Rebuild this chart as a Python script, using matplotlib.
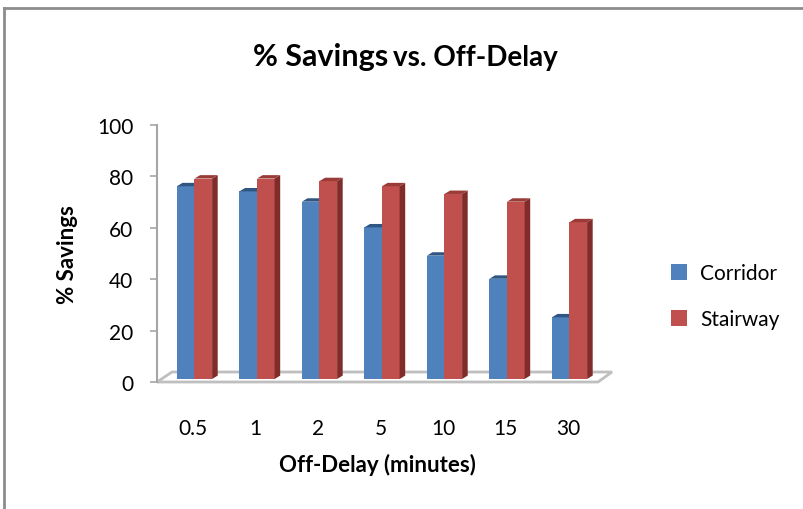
import matplotlib.pyplot as plt
from matplotlib.patches import Polygon, Patch
from matplotlib.lines import Line2D

plt.rcParams['font.family'] = ['Lato', 'DejaVu Sans']

# data
delays = ['0.5', '1', '2', '5', '10', '15', '30']
corridor = [75, 73, 69, 59, 48, 39, 24]
stairway = [78, 78, 77, 75, 72, 69, 61]
series_names = ['Corridor', 'Stairway']

blue, blue_side, blue_top = '#4F81BD', '#3A6596', '#2F5683'
red, red_side, red_top = '#C0504D', '#7F2C2A', '#9B3B38'

W, H = 804, 510
fig = plt.figure(figsize=(W / 100, H / 100), dpi=100)
ax = fig.add_axes([157 / W, 1 - 383 / H, (598 - 157) / W, (383 - 126) / H])
ax.set_xlim(-0.576, 6.48)
ax.set_ylim(0, 100)

# pixel -> data conversion for the fake 3d depth
px_x = (6.48 + 0.576) / (598 - 157)
px_y = 100 / (383 - 126)
bw = 17.6 * px_x
ddx, ddy = 5.6 * px_x, 3.4 * px_y
b0 = 3 * px_y  # bars stand slightly back on the floor
sx = 1.5 * px_x

# floor
fx0, fx1 = ax.get_xlim()
floor = Polygon([(fx0, 0), (fx1, 0), (fx1 + 14 * px_x, 10 * px_y), (fx0 + 15 * px_x, 10 * px_y)],
                closed=True, facecolor='white', edgecolor='#BFBFBF', lw=2, clip_on=False, zorder=1)
ax.add_patch(floor)


def bar3d(x, h, face, side, top):
    x0, x1 = x, x + bw
    y0, y1 = b0, b0 + h
    ax.add_patch(Polygon([(x0, y0), (x1, y0), (x1, y1), (x0, y1)], closed=True,
                         facecolor=face, edgecolor='none', clip_on=False, zorder=3))
    ax.add_patch(Polygon([(x1, y0), (x1 + ddx, y0 + ddy), (x1 + ddx, y1 + ddy), (x1, y1)], closed=True,
                         facecolor=side, edgecolor='none', clip_on=False, zorder=3))
    ax.add_patch(Polygon([(x0, y1), (x1, y1), (x1 + ddx, y1 + ddy), (x0 + ddx, y1 + ddy)], closed=True,
                         facecolor=top, edgecolor='none', clip_on=False, zorder=3))


for i in range(len(delays)):
    bar3d(i - bw + sx, corridor[i], blue, blue_side, blue_top)
    bar3d(i + sx, stairway[i], red, red_side, red_top)

for s in ['top', 'right', 'bottom']:
    ax.spines[s].set_visible(False)
ax.spines['left'].set_color('#A6A6A6')
ax.spines['left'].set_linewidth(1.5)
ax.set_yticks(range(0, 101, 20))
ax.tick_params(axis='y', direction='out', length=5, width=1.2, color='#A6A6A6', pad=12, labelsize=15)
ax.set_xticks(range(len(delays)))
ax.set_xticklabels(delays)
ax.tick_params(axis='x', length=0, pad=26, labelsize=15)

ax.set_xlabel('Off-Delay (minutes)', fontsize=16, fontweight='bold', labelpad=11)
ax.set_ylabel('% Savings', fontsize=16, fontweight='bold', labelpad=14)

# title with two sizes
fig.text(388 / W, 1 - 66 / H, '% Savings', fontsize=22, fontweight='bold', ha='right', va='baseline')
fig.text(393 / W, 1 - 66 / H, 'vs. Off-Delay', fontsize=20, fontweight='bold', ha='left', va='baseline')

handles = [Patch(facecolor=blue, edgecolor='none'), Patch(facecolor=red, edgecolor='none')]
fig.legend(handles, series_names, loc='center left', bbox_to_anchor=(652 / W, 1 - 297 / H),
           frameon=False, fontsize=15, handlelength=0.8, handleheight=0.8,
           labelspacing=1.25, handletextpad=0.6)

# chart border
fig.add_artist(Line2D([4.5 / W, 1], [1 - 8.5 / H, 1 - 8.5 / H], color='#8C8C8C', lw=2))
fig.add_artist(Line2D([4.5 / W, 4.5 / W], [0, 1 - 8.5 / H], color='#8C8C8C', lw=2))

fig.savefig('out.png', dpi=100, facecolor='white')
